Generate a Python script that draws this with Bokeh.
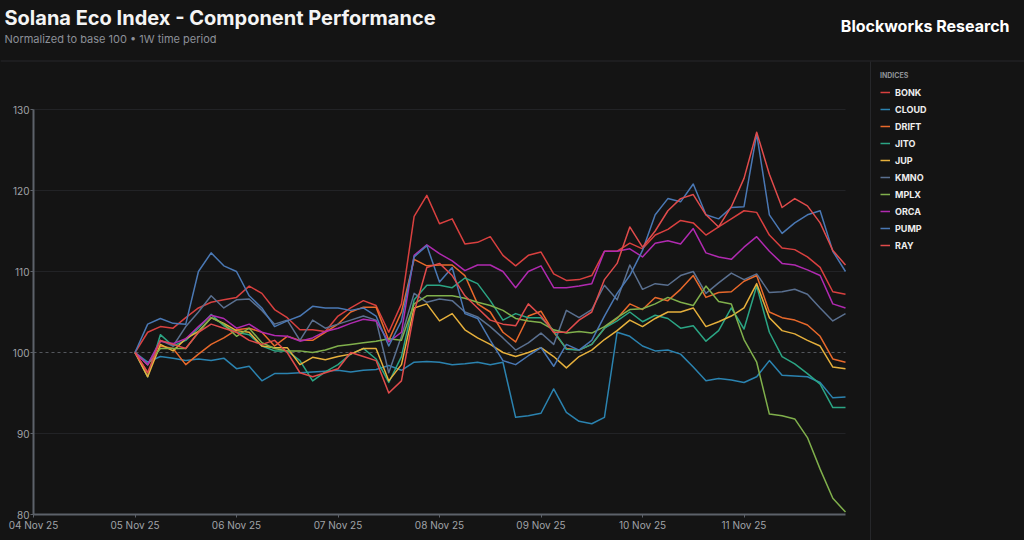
import pandas as pd
from bokeh.plotting import figure
from bokeh.models import (Range1d, FixedTicker, DatetimeTickFormatter, Label, Legend,
                          LegendItem, BoxAnnotation, DatetimeAxis, LinearAxis, Grid)
from bokeh.embed import file_html
from bokeh.resources import INLINE

# ---------------- data (normalized to 100, 3-hour steps from 05 Nov 00:00) ----------------
names = ["BONK", "CLOUD", "DRIFT", "JITO", "JUP", "KMNO", "MPLX", "ORCA", "PUMP", "RAY"]
colors = ["#d9403f", "#2b83b0", "#e8692b", "#2ba584", "#e6b03c", "#5a7090",
          "#80b04c", "#b02ab0", "#4a78b4", "#e04b4b"]

BONK = [100, 102.5, 103.2, 103.0, 104.3, 105.5, 106.2, 106.5, 106.8, 108.2, 107.3, 105.3, 104.3,
        102.8, 102.8, 102.6, 104.5, 105.5, 106.4, 105.8, 102.5, 106.0, 116.8, 119.4, 115.9, 116.5,
        113.4, 113.6, 114.3, 112.0, 110.7, 112.0, 112.4, 109.7, 108.9, 109.0, 109.5, 112.5, 112.5,
        113.5, 112.8, 114.5, 115.2, 116.3, 116.0, 114.5, 115.5, 116.5, 117.5, 117.3, 114.5, 112.9,
        112.7, 111.8, 110.5, 107.5, 107.2]
CLOUD = [100, 98.8, 99.5, 99.3, 99.0, 99.2, 99.0, 99.3, 98.0, 98.3, 96.5, 97.4, 97.4, 97.5, 97.6,
         97.7, 97.8, 97.6, 97.8, 97.9, 98.4, 97.8, 98.8, 98.9, 98.8, 98.5, 98.6, 98.8, 98.5, 98.8,
         92.0, 92.2, 92.5, 95.5, 92.6, 91.5, 91.2, 92.0, 102.5, 102.0, 100.8, 100.2, 100.3, 99.8,
         98.2, 96.5, 96.8, 96.6, 96.3, 97.0, 99.0, 97.2, 97.1, 97.0, 96.3, 94.4, 94.5]
DRIFT = [100, 97.5, 100.8, 100.5, 98.5, 99.8, 101.0, 101.8, 102.8, 103.0, 102.5, 100.8, 102.0,
         101.5, 101.5, 102.5, 103.5, 105.0, 105.6, 105.6, 101.5, 105.0, 111.5, 110.7, 110.8, 110.8,
         109.5, 106.0, 105.0, 102.5, 101.3, 104.5, 105.1, 102.5, 100.5, 100.3, 101.0, 103.0, 104.2,
         106.0, 105.3, 106.8, 106.4, 107.8, 109.5, 106.8, 107.4, 107.5, 108.8, 109.5, 105.0, 104.3,
         104.0, 103.4, 102.0, 99.2, 98.8]
JITO = [100, 97.0, 102.2, 100.8, 101.5, 103.0, 104.7, 103.3, 102.5, 102.2, 100.8, 100.2, 100.2,
        99.0, 96.5, 97.6, 98.5, 99.8, 100.5, 99.2, 96.3, 99.5, 106.5, 108.3, 108.3, 108.0, 109.2,
        108.5, 106.4, 104.0, 104.8, 104.3, 104.3, 102.7, 100.4, 100.3, 101.0, 103.0, 103.9, 105.0,
        103.8, 104.6, 104.2, 103.0, 103.3, 101.4, 102.7, 105.5, 102.9, 108.2, 102.5, 99.5, 98.6,
        97.4, 96.1, 93.2, 93.2]
JUP = [100, 97.0, 101.0, 100.2, 101.7, 102.6, 104.3, 103.6, 102.7, 102.5, 100.8, 100.6, 100.6,
       98.5, 99.4, 99.1, 99.5, 99.8, 100.5, 100.5, 96.5, 98.5, 105.5, 106.0, 103.9, 104.8, 102.8,
       101.8, 101.0, 100.0, 99.5, 100.0, 100.6, 99.5, 98.1, 99.5, 100.3, 101.6, 102.7, 104.0, 103.2,
       104.2, 105.0, 105.0, 105.5, 103.2, 103.8, 104.5, 105.5, 108.5, 104.3, 102.7, 102.3, 101.5,
       100.8, 98.2, 98.0]
KMNO = [100, 98.5, 101.5, 100.8, 103.2, 105.0, 107.0, 105.5, 106.5, 106.6, 105.2, 103.5, 104.0,
        101.5, 104.0, 103.0, 103.5, 104.0, 104.5, 104.0, 97.5, 102.0, 107.3, 106.2, 106.6, 106.4,
        105.0, 104.4, 103.2, 101.8, 100.3, 101.2, 102.4, 101.0, 105.2, 104.3, 105.3, 108.3, 106.5,
        110.8, 107.8, 108.5, 108.3, 109.5, 110.0, 107.3, 108.6, 109.8, 109.0, 109.7, 107.4, 107.5,
        107.8, 107.2, 105.5, 103.9, 104.8]
MPLX = [100, 98.5, 100.5, 100.5, 100.5, 102.5, 104.3, 103.5, 102.0, 103.0, 101.2, 100.5, 100.2,
        100.2, 100.0, 100.3, 100.8, 101.0, 101.2, 101.4, 101.7, 101.5, 106.0, 107.0, 107.0, 107.0,
        106.7, 106.2, 105.8, 105.2, 104.2, 103.9, 103.7, 102.8, 102.4, 102.6, 102.4, 103.2, 104.3,
        105.3, 105.4, 106.0, 106.8, 106.2, 105.8, 108.2, 106.3, 106.0, 101.6, 98.8, 92.4, 92.2,
        91.8, 89.5, 85.6, 82.0, 80.3]
ORCA = [100, 98.5, 101.4, 101.1, 101.7, 103.2, 104.6, 104.2, 103.0, 103.5, 102.5, 102.1, 102.0,
        101.4, 101.8, 102.6, 103.0, 103.6, 104.1, 103.9, 101.3, 102.5, 112.0, 113.3, 112.2, 111.3,
        110.1, 110.8, 110.8, 110.0, 108.0, 110.0, 110.7, 108.0, 108.0, 108.2, 108.5, 112.5, 112.5,
        112.8, 111.8, 113.5, 113.8, 113.4, 115.3, 112.3, 111.8, 111.5, 113.0, 114.3, 112.5, 111.0,
        110.8, 110.2, 109.5, 106.0, 105.5]
PUMP = [100, 103.5, 104.2, 103.6, 103.5, 110.0, 112.3, 110.7, 110.0, 107.0, 105.5, 103.2, 103.9,
        104.5, 105.7, 105.5, 105.5, 105.2, 105.5, 104.5, 100.8, 103.9, 111.8, 113.2, 108.7, 110.5,
        104.8, 104.2, 101.5, 99.0, 98.5, 99.6, 100.6, 98.3, 101.0, 100.3, 101.5, 104.5, 107.3,
        109.5, 112.6, 117.0, 119.0, 118.6, 120.8, 117.0, 116.5, 117.9, 118.0, 127.0, 117.0, 114.7,
        116.0, 117.0, 117.5, 112.5, 110.0]
RAY = [100, 97.5, 101.5, 101.0, 100.5, 102.5, 103.5, 103.0, 102.5, 101.5, 101.0, 101.5, 100.0,
       97.5, 97.0, 97.5, 98.0, 100.0, 99.5, 99.0, 95.0, 96.5, 105.0, 110.5, 111.0, 109.5, 107.0,
       105.5, 104.0, 103.5, 103.3, 106.0, 104.5, 102.5, 102.5, 104.0, 105.0, 109.0, 111.0, 115.5,
       113.0, 115.0, 117.5, 119.0, 119.5, 117.0, 115.5, 118.0, 121.5, 127.2, 122.0, 117.9, 119.0,
       118.1, 116.0, 112.6, 110.8]

series = [BONK, CLOUD, DRIFT, JITO, JUP, KMNO, MPLX, ORCA, PUMP, RAY]
times = pd.date_range("2025-11-05 00:00", periods=len(BONK), freq="3h")
day_ticks = pd.date_range("2025-11-04", "2025-11-11", freq="D")
y_ticks = [80, 90, 100, 110, 120, 130]
x_start, x_end = pd.Timestamp("2025-11-04"), pd.Timestamp("2025-11-12")
y_start, y_end = 80, 130

# ---------------- layout (pixels in the 1024x540 canvas) ----------------
W, H = 1024, 540
PL, PR, PT, PB = 33, 845, 109, 514          # plot-area edges
BG = "#141414"
AXC = "#5d626a"

ms0 = x_start.value // 10**6
ms1 = x_end.value // 10**6
ms_per_px = (ms1 - ms0) / (PR - PL)
u_per_px = (y_end - y_start) / (PB - PT)

p = figure(width=W, height=H, output_backend="svg", toolbar_location=None,
           x_axis_location=None, y_axis_location=None, min_border=0,
           x_range=Range1d(ms0 - PL * ms_per_px, ms1 + (W - PR) * ms_per_px),
           y_range=Range1d(y_start - (H - PB) * u_per_px, y_end + PT * u_per_px),
           background_fill_color=BG, border_fill_color=BG, outline_line_color=None)
p.center = []   # drop default grids

# grid + dashed base line
p.add_layout(Grid(dimension=1, ticker=FixedTicker(ticks=[90, 110, 120, 130]),
                  cross_bounds=(ms0, ms1), grid_line_color="#222326", grid_line_width=1))
p.add_layout(Grid(dimension=1, ticker=FixedTicker(ticks=[100]), cross_bounds=(ms0, ms1),
                  grid_line_color="#54575d", grid_line_width=1, grid_line_dash="3 3"))

xaxis = DatetimeAxis(fixed_location=y_start, bounds=(ms0, ms1),
                     ticker=FixedTicker(ticks=[t.value // 10**6 for t in day_ticks]),
                     formatter=DatetimeTickFormatter(days="%d %b %y", months="%d %b %y",
                                                     hours="%d %b %y"))
yaxis = LinearAxis(fixed_location=ms0, bounds=(y_start, y_end),
                   ticker=FixedTicker(ticks=y_ticks))
for ax in (xaxis, yaxis):
    ax.axis_line_color = AXC
    ax.axis_line_width = 2
    ax.major_tick_line_color = AXC
    ax.major_tick_line_width = 1
    ax.major_tick_in = 0
    ax.major_tick_out = 3
    ax.minor_tick_line_color = None
    ax.major_label_text_color = "#a0a3a8"
    ax.major_label_text_font = "Inter"
    ax.major_label_text_font_size = "10px"
    ax.major_label_standoff = 1
p.add_layout(xaxis, "below")
p.add_layout(yaxis, "left")

items = []
for name, col, ys in zip(names, colors, series):
    r = p.line(times, ys, line_color=col, line_width=1.5, line_join="round")
    items.append(LegendItem(label=name, renderers=[r]))

def sy(page_y):  # canvas y (from top) -> screen units measured from bottom
    return H - page_y

legend = Legend(items=items, location=(880, sy(251)), title="INDICES",
                title_text_font="Inter", title_text_font_size="7px", title_text_font_style="bold",
                title_text_color="#8f9296", title_standoff=6,
                label_text_font="Inter", label_text_font_size="9px", label_text_font_style="bold",
                label_text_color="#eeeeee", glyph_width=10, glyph_height=12, label_height=12,
                label_standoff=5, spacing=5, padding=0, margin=0,
                background_fill_alpha=0, border_line_color=None)
p.add_layout(legend)

# separators
p.add_layout(BoxAnnotation(left=0, right=W, bottom=sy(61), top=sy(60),
                           left_units="screen", right_units="screen", bottom_units="screen",
                           top_units="screen", fill_color="#26272a", fill_alpha=1, line_color=None))
p.add_layout(BoxAnnotation(left=869.5, right=870.5, bottom=0, top=sy(61),
                           left_units="screen", right_units="screen", bottom_units="screen",
                           top_units="screen", fill_color="#26272a", fill_alpha=1, line_color=None))

p.add_layout(Label(x=4, y=sy(17), x_units="screen", y_units="screen",
                   text="Solana Eco Index - Component Performance", text_font="Inter",
                   text_font_size="20px", text_font_style="bold", text_color="#f4f4f4",
                   text_baseline="middle", text_align="left"))
p.add_layout(Label(x=4, y=sy(38), x_units="screen", y_units="screen",
                   text="Normalized to base 100 \u2022 1W time period", text_font="Inter",
                   text_font_size="11px", text_color="#8c9098",
                   text_baseline="middle", text_align="left"))
p.add_layout(Label(x=1009, y=sy(25), x_units="screen", y_units="screen",
                   text="Blockworks Research", text_font="Inter",
                   text_font_size="16px", text_font_style="bold", text_color="#ffffff",
                   text_baseline="middle", text_align="right"))

template = """{% block preamble %}<style>html, body { background: #141414; }</style>{% endblock %}"""

open("out.html", "w").write(file_html(p, INLINE, template=template))
